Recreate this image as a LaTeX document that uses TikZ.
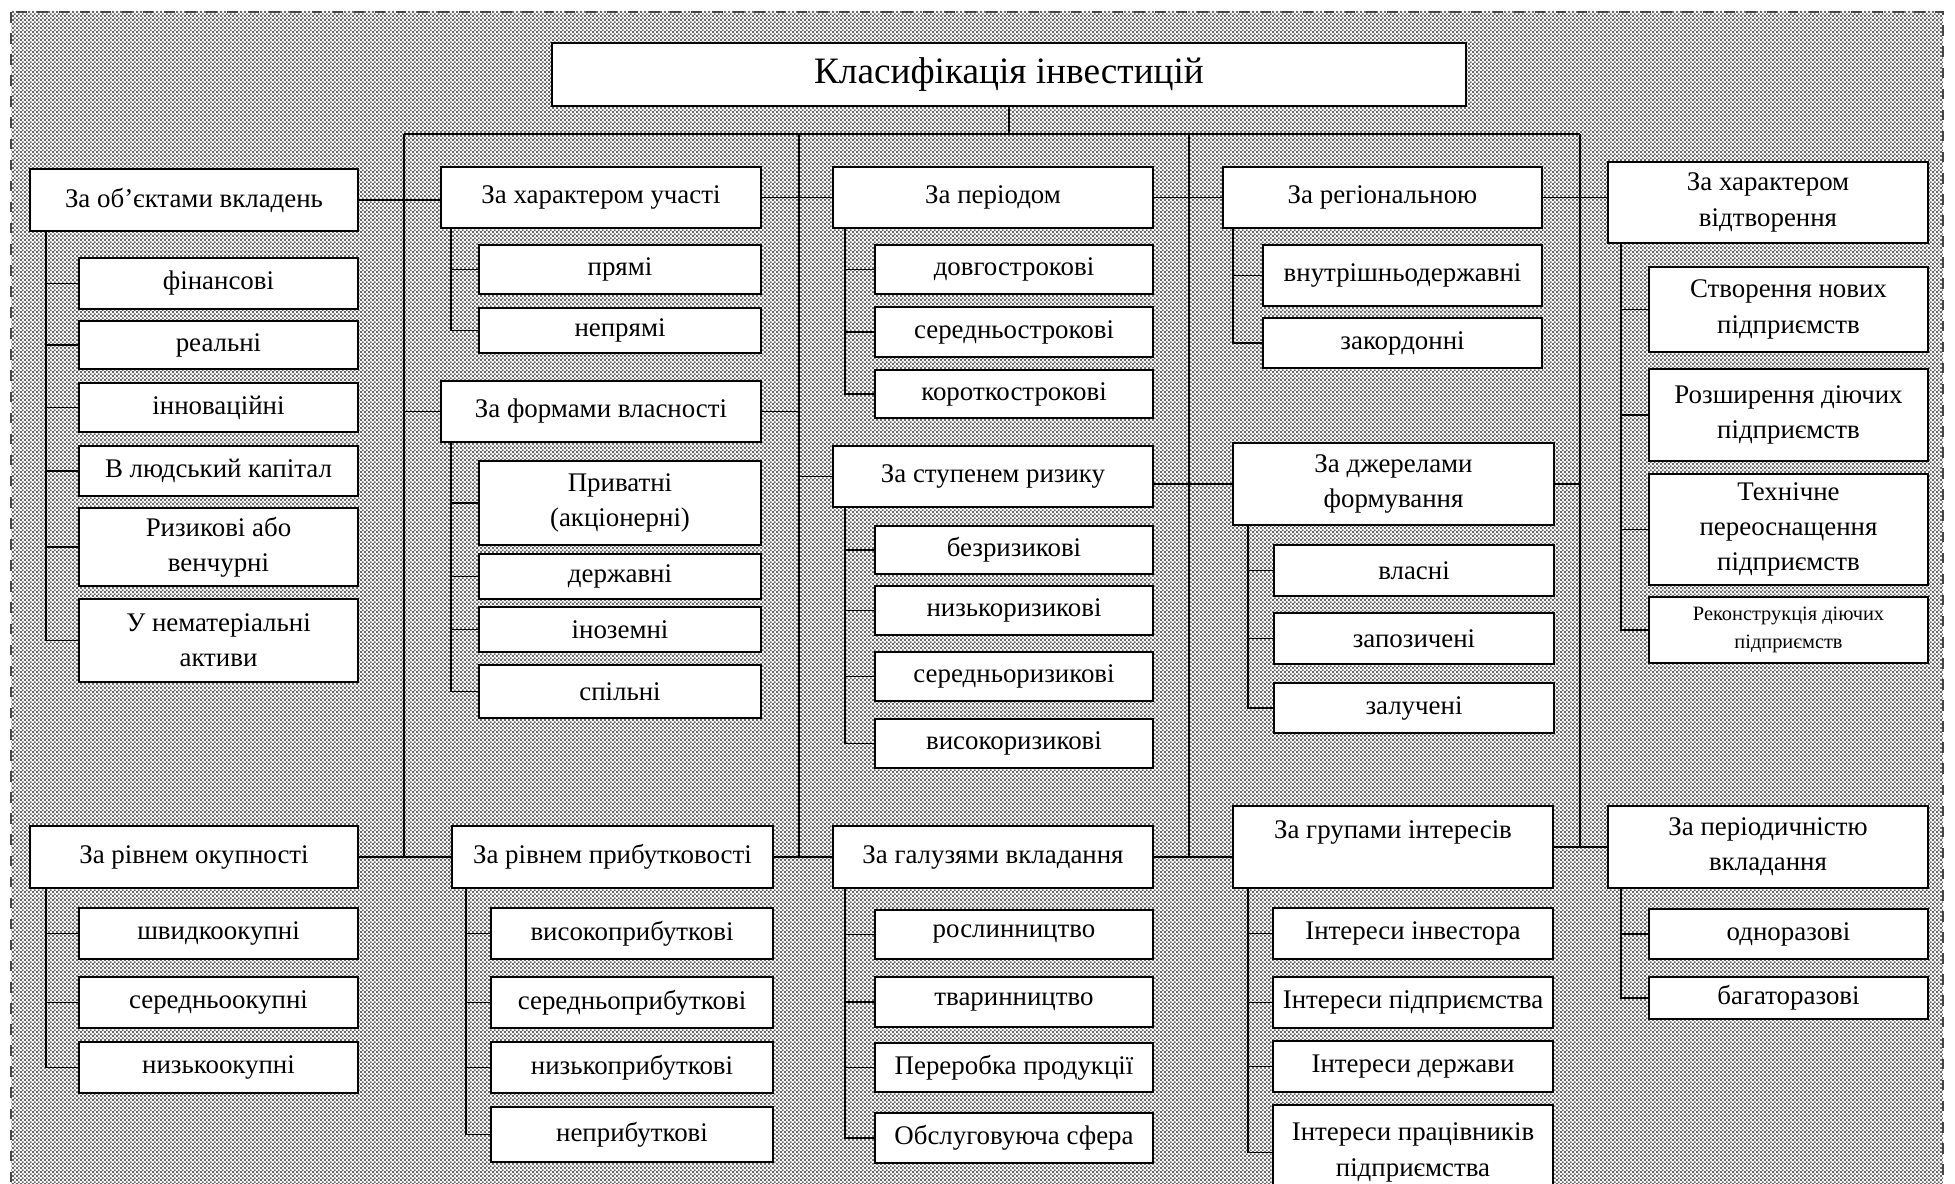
\documentclass[tikz,border=0pt]{standalone}
\usepackage{fontspec}
\setmainfont{Liberation Serif}
\usetikzlibrary{positioning,calc,patterns.meta}
\definecolor{dotgray}{RGB}{105,105,105}
\definecolor{framegray}{RGB}{70,70,70}

\tikzdeclarepattern{
  name=sheetdots,
  type=uncolored,
  bottom left={(0pt,0pt)},
  top right={(1.2pt,1.2pt)},
  tile size={(1.2pt,1.2pt)},
  code={
    \fill (0pt,0pt) rectangle (0.6pt,0.6pt);
    \fill (0.6pt,0.6pt) rectangle (1.2pt,1.2pt);
  }
}

\tikzset{
  head/.style={rectangle,draw=black,fill=white,line width=0.6pt,inner sep=1pt,
    align=center,font=\fontsize{7.65}{10}\selectfont},
  item/.style={head},
  link/.style={draw=black,line width=0.5pt},
}

\begin{document}
\begin{tikzpicture}
\useasboundingbox (0,0) rectangle (19.55,-11.84);
% hatched sheet behind the scheme
\fill[white] (0.11,-0.12) rectangle (19.43,-12.3);
\fill[pattern=sheetdots,pattern color=dotgray] (0.11,-0.12) rectangle (19.43,-12.3);
\draw[framegray,dashed,line width=0.4pt] (0.11,-0.12) rectangle (19.43,-12.3);

\node[head,minimum width=9.14cm,minimum height=0.63cm,font=\fontsize{10.6}{12}\selectfont] (title) at (10.09,-0.745) {Класифікація інвестицій};

% first row of criteria
\node[head,minimum width=3.28cm,minimum height=0.62cm] (obj) at (1.94,-2.00) {За об’єктами вкладень};
\node[head,minimum width=3.20cm,minimum height=0.61cm] (part) at (6.01,-1.975) {За характером участі};
\node[head,minimum width=3.20cm,minimum height=0.61cm] (period) at (9.93,-1.975) {За періодом};
\node[head,minimum width=3.19cm,minimum height=0.61cm] (region) at (13.825,-1.975) {За регіональною};
\node[head,minimum width=3.20cm,minimum height=0.81cm] (repro) at (17.68,-2.025) {За характером\\відтворення};

% second row
\node[head,minimum width=3.20cm,minimum height=0.61cm] (own) at (6.01,-4.115) {За формами власності};
\node[head,minimum width=3.20cm,minimum height=0.61cm] (risk) at (9.93,-4.765) {За ступенем ризику};
\node[head,minimum width=3.21cm,minimum height=0.82cm] (source) at (13.935,-4.84) {За джерелами\\формування};

% third row
\node[head,minimum width=3.28cm,minimum height=0.62cm] (payback) at (1.94,-8.57) {За рівнем окупності};
\node[head,minimum width=3.21cm,minimum height=0.62cm] (profit) at (6.125,-8.57) {За рівнем прибутковості};
\node[head,minimum width=3.20cm,minimum height=0.62cm] (branch) at (9.93,-8.57) {За галузями вкладання};
\node[head,minimum width=3.20cm,minimum height=0.82cm] (interest) at (13.93,-8.47) {За групами інтересів\\~};
\node[head,minimum width=3.20cm,minimum height=0.82cm] (periodic) at (17.68,-8.47) {За періодичністю\\вкладання};

% items
\node[item,minimum width=2.79cm,minimum height=0.51cm] (fin) at (2.185,-2.835) {фінансові};
\node[item,minimum width=2.79cm,minimum height=0.48cm] (real) at (2.185,-3.45) {реальні};
\node[item,minimum width=2.79cm,minimum height=0.49cm] (innov) at (2.185,-4.075) {інноваційні};
\node[item,minimum width=2.79cm,minimum height=0.50cm] (human) at (2.185,-4.71) {В людський капітал};
\node[item,minimum width=2.79cm,minimum height=0.78cm] (venture) at (2.185,-5.47) {Ризикові або\\венчурні};
\node[item,minimum width=2.79cm,minimum height=0.83cm] (intang) at (2.185,-6.405) {У нематеріальні\\активи};

\node[item,minimum width=2.82cm,minimum height=0.49cm] (direct) at (6.20,-2.695) {прямі};
\node[item,minimum width=2.82cm,minimum height=0.45cm] (indirect) at (6.20,-3.305) {непрямі};

\node[item,minimum width=2.82cm,minimum height=0.84cm] (private) at (6.20,-5.03) {Приватні\\(акціонерні)};
\node[item,minimum width=2.82cm,minimum height=0.45cm] (statep) at (6.20,-5.765) {державні};
\node[item,minimum width=2.82cm,minimum height=0.45cm] (foreign) at (6.20,-6.295) {іноземні};
\node[item,minimum width=2.82cm,minimum height=0.53cm] (joint) at (6.20,-6.915) {спільні};

\node[item,minimum width=2.78cm,minimum height=0.49cm] (long) at (10.14,-2.695) {довгострокові};
\node[item,minimum width=2.78cm,minimum height=0.50cm] (medium) at (10.14,-3.32) {середньострокові};
\node[item,minimum width=2.78cm,minimum height=0.48cm] (short) at (10.14,-3.94) {короткострокові};

\node[item,minimum width=2.78cm,minimum height=0.48cm] (riskfree) at (10.14,-5.50) {безризикові};
\node[item,minimum width=2.78cm,minimum height=0.49cm] (lowrisk) at (10.14,-6.105) {низькоризикові};
\node[item,minimum width=2.78cm,minimum height=0.49cm] (midrisk) at (10.14,-6.765) {середньоризикові};
\node[item,minimum width=2.78cm,minimum height=0.49cm] (highrisk) at (10.14,-7.435) {високоризикові};

\node[item,minimum width=2.78cm,minimum height=0.49cm] (crop) at (10.14,-9.345) {рослинництво};
\node[item,minimum width=2.78cm,minimum height=0.50cm] (stock) at (10.14,-10.02) {тваринництво};
\node[item,minimum width=2.78cm,minimum height=0.49cm] (proc) at (10.14,-10.675) {Переробка продукції};
\node[item,minimum width=2.78cm,minimum height=0.50cm] (serv) at (10.14,-11.38) {Обслуговуюча сфера};

\node[item,minimum width=2.79cm,minimum height=0.61cm] (domestic) at (14.025,-2.755) {внутрішньодержавні};
\node[item,minimum width=2.79cm,minimum height=0.50cm] (abroad) at (14.025,-3.43) {закордонні};

\node[item,minimum width=2.80cm,minimum height=0.51cm] (ownf) at (14.14,-5.705) {власні};
\node[item,minimum width=2.80cm,minimum height=0.51cm] (borrow) at (14.14,-6.385) {запозичені};
\node[item,minimum width=2.80cm,minimum height=0.50cm] (attract) at (14.14,-7.08) {залучені};

\node[item,minimum width=2.80cm,minimum height=0.51cm] (inv) at (14.13,-9.335) {Інтереси інвестора};
\node[item,minimum width=2.80cm,minimum height=0.51cm] (firm) at (14.13,-10.025) {Інтереси підприємства};
\node[item,minimum width=2.80cm,minimum height=0.51cm] (govt) at (14.13,-10.665) {Інтереси держави};
\node[item,minimum width=2.80cm,minimum height=0.95cm] (staff) at (14.13,-11.525) {Інтереси працівників\\підприємства};

\node[item,minimum width=2.79cm,minimum height=0.85cm] (newent) at (17.885,-3.095) {Створення нових\\підприємств};
\node[item,minimum width=2.79cm,minimum height=0.92cm] (expand) at (17.885,-4.15) {Розширення діючих\\підприємств};
\node[item,minimum width=2.79cm,minimum height=1.11cm] (retool) at (17.885,-5.295) {Технічне\\переоснащення\\підприємств};
\node[item,minimum width=2.79cm,minimum height=0.66cm,font=\fontsize{5.8}{7.8}\selectfont] (recon) at (17.885,-6.30) {Реконструкція діючих\\підприємств};

\node[item,minimum width=2.79cm,minimum height=0.50cm] (once) at (17.885,-9.34) {одноразові};
\node[item,minimum width=2.79cm,minimum height=0.42cm] (multi) at (17.885,-9.98) {багаторазові};

\node[item,minimum width=2.79cm,minimum height=0.51cm] (fast) at (2.185,-9.335) {швидкоокупні};
\node[item,minimum width=2.79cm,minimum height=0.51cm] (midpay) at (2.185,-10.025) {середньоокупні};
\node[item,minimum width=2.79cm,minimum height=0.51cm] (slow) at (2.185,-10.675) {низькоокупні};

\node[item,minimum width=2.82cm,minimum height=0.51cm] (highp) at (6.32,-9.335) {високоприбуткові};
\node[item,minimum width=2.82cm,minimum height=0.51cm] (midp) at (6.32,-10.025) {середньоприбуткові};
\node[item,minimum width=2.82cm,minimum height=0.51cm] (lowp) at (6.32,-10.675) {низькоприбуткові};
\node[item,minimum width=2.82cm,minimum height=0.55cm] (nonp) at (6.32,-11.345) {неприбуткові};

% main bus
\coordinate (bus1) at (4.04,-1.34);
\coordinate (bus2) at (7.99,-1.34);
\coordinate (bus3) at (11.89,-1.34);
\coordinate (bus4) at (15.80,-1.34);
\draw[link] (title.south) -- (title.south |- bus1);
\draw[link] (bus1) -- (bus4);
\draw[link] (bus1) -- (bus1 |- payback.east);
\draw[link] (bus2) -- (bus2 |- branch.west);
\draw[link] (bus3) -- (bus3 |- branch.east);
\draw[link] (bus4) -- (bus4 |- interest.east);

% criteria to bus
\draw[link] (obj.east) -- (obj.east -| part.west);
\draw[link] (part.east) -- (part.east -| period.west);
\draw[link] (period.east) -- (period.east -| region.west);
\draw[link] (region.east) -- (region.east -| repro.west);
\draw[link] (own.west) -- (own.west -| bus1);
\draw[link] (own.east) -- (own.east -| bus2);
\draw[link] (risk.west) -- (risk.west -| bus2);
\draw[link] (source.west) -- (source.west -| risk.east);
\draw[link] (source.east) -- (source.east -| bus4);
\draw[link] (payback.east) -- (payback.east -| profit.west);
\draw[link] (profit.east) -- (profit.east -| branch.west);
\draw[link] (branch.east) -- (branch.east -| interest.west);
\draw[link] (interest.east) -- (interest.east -| periodic.west);

% items to their criteria
\foreach \c in {fin,real,innov,human,venture,intang}
  \draw[link] ([xshift=1.7mm]obj.south west) |- (\c.west);
\foreach \c in {direct,indirect}
  \draw[link] ([xshift=1.1mm]part.south west) |- (\c.west);
\foreach \c in {private,statep,foreign,joint}
  \draw[link] ([xshift=1.1mm]own.south west) |- (\c.west);
\foreach \c in {long,medium,short}
  \draw[link] ([xshift=1.3mm]period.south west) |- (\c.west);
\foreach \c in {riskfree,lowrisk,midrisk,highrisk}
  \draw[link] ([xshift=1.3mm]risk.south west) |- (\c.west);
\foreach \c in {crop,stock,proc,serv}
  \draw[link] ([xshift=1.3mm]branch.south west) |- (\c.west);
\foreach \c in {domestic,abroad}
  \draw[link] ([xshift=1.1mm]region.south west) |- (\c.west);
\foreach \c in {ownf,borrow,attract}
  \draw[link] ([xshift=1.6mm]source.south west) |- (\c.west);
\foreach \c in {inv,firm,govt,staff}
  \draw[link] ([xshift=1.6mm]interest.south west) |- (\c.west);
\foreach \c in {newent,expand,retool,recon}
  \draw[link] ([xshift=1.4mm]repro.south west) |- (\c.west);
\foreach \c in {once,multi}
  \draw[link] ([xshift=1.4mm]periodic.south west) |- (\c.west);
\foreach \c in {fast,midpay,slow}
  \draw[link] ([xshift=1.7mm]payback.south west) |- (\c.west);
\foreach \c in {highp,midp,lowp,nonp}
  \draw[link] ([xshift=1.5mm]profit.south west) |- (\c.west);
\end{tikzpicture}
\end{document}
